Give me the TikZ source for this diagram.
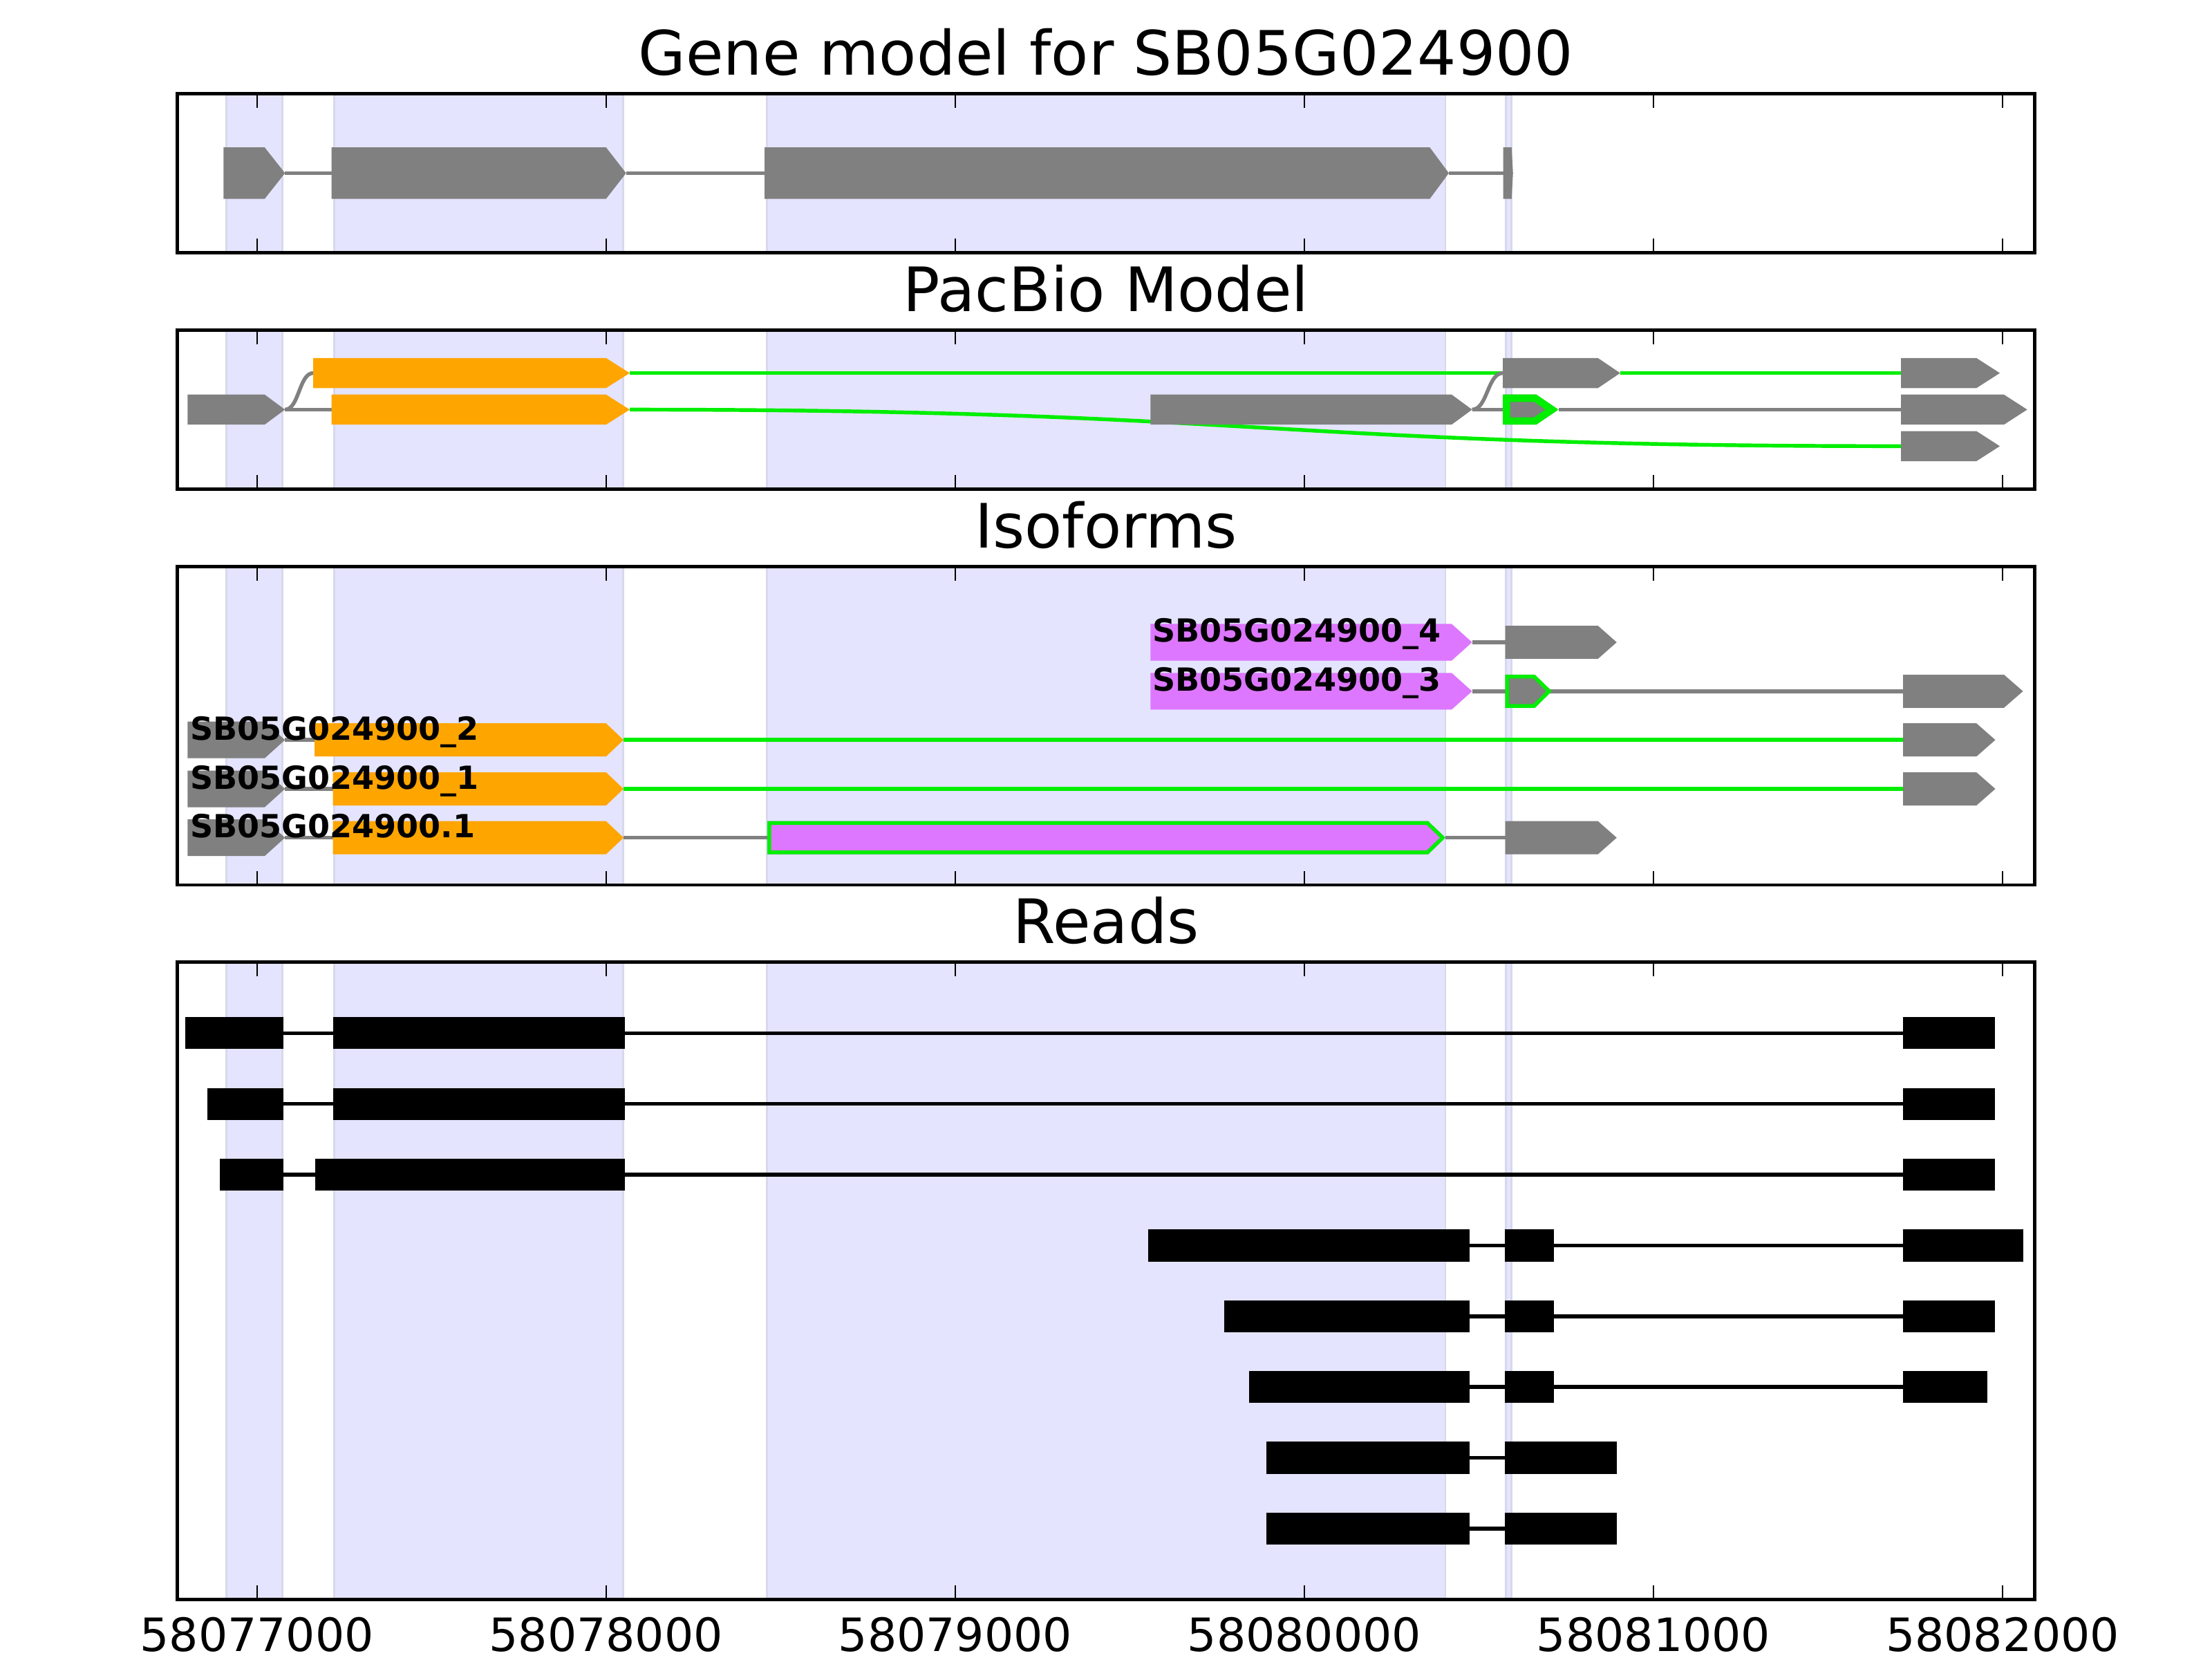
\documentclass[tikz,border=0pt]{standalone}
\usepackage{fontspec}
\setmainfont{DejaVu Sans}
\definecolor{exgray}{HTML}{808080}
\definecolor{exorange}{HTML}{FFA500}
\definecolor{exgreen}{HTML}{00EE00}
\definecolor{expurple}{HTML}{DD77FF}
\definecolor{bandfill}{HTML}{E4E4FE}
\definecolor{bandedge}{HTML}{D8D8EC}
% x1, x2 (tip), body end, y centre, height, colour
\newcommand{\gexon}[6]{%
  \fill[#6] (#1,{#4-#5/2}) -- (#3,{#4-#5/2}) -- (#2,#4) -- (#3,{#4+#5/2}) -- (#1,{#4+#5/2}) -- cycle;}
% same, with a green inner outline of width #7/2
\newcommand{\oexon}[7]{%
  \begin{scope}
  \clip (#1,{#4-#5/2}) -- (#3,{#4-#5/2}) -- (#2,#4) -- (#3,{#4+#5/2}) -- (#1,{#4+#5/2}) -- cycle;
  \fill[#6] (#1,{#4-#5/2}) -- (#3,{#4-#5/2}) -- (#2,#4) -- (#3,{#4+#5/2}) -- (#1,{#4+#5/2}) -- cycle;
  \draw[exgreen, line width=#7, line join=miter] (#1,{#4-#5/2}) -- (#3,{#4-#5/2}) -- (#2,#4) -- (#3,{#4+#5/2}) -- (#1,{#4+#5/2}) -- cycle;
  \end{scope}}
\newcommand{\bgbands}[2]{%
  \foreach \a/\b in {160.6/200.1, 237.1/441.8, 543.5/1024.6, 1067.3/1071.2}{%
    \fill[bandfill] (\a,#1) rectangle (\b,#2);
    \draw[bandedge, line width=0.8pt] (\a,#1) -- (\a,#2) (\b,#1) -- (\b,#2);}}
\newcommand{\frameticks}[2]{%
  \draw[line width=1.4pt] (125.5,#1) rectangle (1442.5,#2);
  \foreach \t in {182.1,429.6,677.1,924.6,1172.1,1419.6}{%
    \draw[line width=0.6pt] (\t,#1) -- (\t,{#1+10});
    \draw[line width=0.6pt] (\t,#2) -- (\t,{#2-10});}}
\newcommand{\readbox}[3]{\fill[black] (#1,{#3-11.35}) rectangle (#2,{#3+11.35});}
\begin{document}
\begin{tikzpicture}[x=0.0204082cm, y=-0.0204082cm,
  intron/.style={line width=1.55pt},
  ttl/.style={anchor=base, inner sep=0pt, font=\fontsize{25.2}{30}\selectfont},
  ticklbl/.style={anchor=base, inner sep=0pt, font=\fontsize{18.9}{22}\selectfont},
  isolbl/.style={anchor=base west, inner sep=0pt, font=\fontsize{13.1}{15}\selectfont\bfseries}]
\useasboundingbox (0,0) rectangle (1568,1176);
\fill[white] (0,0) rectangle (1568,1176);

% ---------------- Panel 1: gene model
\bgbands{66.2}{179.1}
\draw[intron, exgray] (202,122.7) -- (235,122.7) (443.8,122.7) -- (542,122.7) (1027,122.7) -- (1065.5,122.7);
\gexon{158.4}{202}{187.6}{122.7}{36.5}{exgray}
\gexon{235}{443.8}{429.6}{122.7}{36.5}{exgray}
\gexon{542}{1027}{1013.5}{122.7}{36.5}{exgray}
\gexon{1065.5}{1072.5}{1071.5}{122.7}{36.5}{exgray}
\frameticks{66.2}{179.1}
\node[ttl] (t1) at (784,53.1) {Gene model for SB05G024900};

% ---------------- Panel 2: PacBio model
\bgbands{233.8}{346.7}
\draw[intron, exgreen] (446.4,264.4) -- (1065.3,264.4) (1148.5,264.4) -- (1347.5,264.4);
\draw[intron, exgray] (202,290.3) .. controls (212,290.3) and (212,264.4) .. (222,264.4);
\draw[intron, exgray] (202,290.3) -- (235,290.3);
\draw[intron, exgreen] (446.4,290.3) .. controls (896.95,290.3) and (896.95,316.2) .. (1347.5,316.2);
\draw[intron, exgray] (1043.5,290.3) .. controls (1054.4,290.3) and (1054.4,264.4) .. (1065.3,264.4);
\draw[intron, exgray] (1043.5,290.3) -- (1065.3,290.3) (1104.7,290.3) -- (1347.5,290.3);
\gexon{222}{446.4}{429.6}{264.4}{21.3}{exorange}
\gexon{1065.3}{1148.5}{1132.7}{264.4}{21.3}{exgray}
\gexon{1347.5}{1417.6}{1401}{264.4}{21.3}{exgray}
\gexon{133}{202}{187.6}{290.3}{21.3}{exgray}
\gexon{235}{446.4}{429.6}{290.3}{21.3}{exorange}
\gexon{815.5}{1043.5}{1029}{290.3}{21.3}{exgray}
\oexon{1065.3}{1104.7}{1089}{290.3}{21.3}{exgray}{6pt}
\gexon{1347.5}{1437}{1420.5}{290.3}{21.3}{exgray}
\gexon{1347.5}{1417.6}{1401}{316.2}{21.3}{exgray}
\frameticks{233.8}{346.7}
\node[ttl] (t2) at (784,220.7) {PacBio Model};

% ---------------- Panel 3: isoforms
\bgbands{401.4}{627.2}
% row A
\draw[intron, exgray] (1043.5,455.2) -- (1067,455.2);
\gexon{815.5}{1043.5}{1029}{455.2}{26}{expurple}
\gexon{1067}{1146}{1132.7}{455.2}{23.5}{exgray}
% row B
\draw[intron, exgray] (1043.5,489.9) -- (1349,489.9);
\gexon{815.5}{1043.5}{1029}{489.9}{26}{expurple}
\oexon{1067}{1100}{1088}{489.9}{23.5}{exgray}{3.1pt}
\gexon{1349}{1434}{1420.5}{489.9}{23.5}{exgray}
% row C
\draw[intron, exgray] (202,524.4) -- (223,524.4);
\draw[intron, exgreen] (442,524.4) -- (1349,524.4);
\gexon{133}{202}{187.6}{524.4}{26}{exgray}
\gexon{223}{442}{429.6}{524.4}{23.5}{exorange}
\gexon{1349}{1414.4}{1401}{524.4}{23.5}{exgray}
% row D
\draw[intron, exgray] (202,559.1) -- (236,559.1);
\draw[intron, exgreen] (442,559.1) -- (1349,559.1);
\gexon{133}{202}{187.6}{559.1}{26}{exgray}
\gexon{236}{442}{429.6}{559.1}{23.5}{exorange}
\gexon{1349}{1414.4}{1401}{559.1}{23.5}{exgray}
% row E
\draw[intron, exgray] (202,593.7) -- (236,593.7) (442,593.7) -- (544,593.7) (1024.6,593.7) -- (1067,593.7);
\gexon{133}{202}{187.6}{593.7}{26}{exgray}
\gexon{236}{442}{429.6}{593.7}{23.5}{exorange}
\oexon{544}{1024.6}{1012.4}{593.7}{23.5}{expurple}{3.1pt}
\gexon{1067}{1146}{1132.7}{593.7}{23.5}{exgray}
% labels
\node[isolbl] (iA) at (816.5,455.2) {SB05G024900\char"5F 4};
\node[isolbl] (iB) at (816.5,489.9) {SB05G024900\char"5F 3};
\node[isolbl] (iC) at (134.6,524.4) {SB05G024900\char"5F 2};
\node[isolbl] (iD) at (134.6,559.1) {SB05G024900\char"5F 1};
\node[isolbl] (iE) at (134.6,593.7) {SB05G024900.1};
\frameticks{401.4}{627.2}
\node[ttl] (t3) at (784,388.3) {Isoforms};

% ---------------- Panel 4: reads
\bgbands{681.9}{1133.4}
\draw[intron] (131.3,732.2) -- (1414,732.2);
\readbox{131.3}{201.1}{732.2}\readbox{236.1}{443.1}{732.2}\readbox{1348.8}{1414}{732.2}
\draw[intron] (147.1,782.4) -- (1414,782.4);
\readbox{147.1}{201.1}{782.4}\readbox{236.1}{443.1}{782.4}\readbox{1348.8}{1414}{782.4}
\draw[intron] (155.6,832.5) -- (1414,832.5);
\readbox{155.6}{201.1}{832.5}\readbox{223.6}{443.1}{832.5}\readbox{1348.8}{1414}{832.5}
\draw[intron] (813.7,882.7) -- (1434.2,882.7);
\readbox{813.7}{1041.7}{882.7}\readbox{1066.6}{1101.6}{882.7}\readbox{1348.8}{1434.2}{882.7}
\draw[intron] (868,932.9) -- (1414,932.9);
\readbox{868}{1041.7}{932.9}\readbox{1066.6}{1101.6}{932.9}\readbox{1348.8}{1414}{932.9}
\draw[intron] (885.5,983.0) -- (1408.8,983.0);
\readbox{885.5}{1041.7}{983.0}\readbox{1066.6}{1101.6}{983.0}\readbox{1348.8}{1408.8}{983.0}
\draw[intron] (897.7,1033.2) -- (1146.3,1033.2);
\readbox{897.7}{1041.7}{1033.2}\readbox{1066.6}{1146.3}{1033.2}
\draw[intron] (897.7,1083.4) -- (1146.3,1083.4);
\readbox{897.7}{1041.7}{1083.4}\readbox{1066.6}{1146.3}{1083.4}
\frameticks{681.9}{1133.4}
\node[ttl] (t4) at (784,668.8) {Reads};

% tick labels
\node[ticklbl] (l0) at (182.1,1170.3) {58077000};
\node[ticklbl] (l1) at (429.6,1170.3) {58078000};
\node[ticklbl] (l2) at (677.1,1170.3) {58079000};
\node[ticklbl] (l3) at (924.6,1170.3) {58080000};
\node[ticklbl] (l4) at (1172.1,1170.3) {58081000};
\node[ticklbl] (l5) at (1419.6,1170.3) {58082000};
\end{tikzpicture}
\end{document}
